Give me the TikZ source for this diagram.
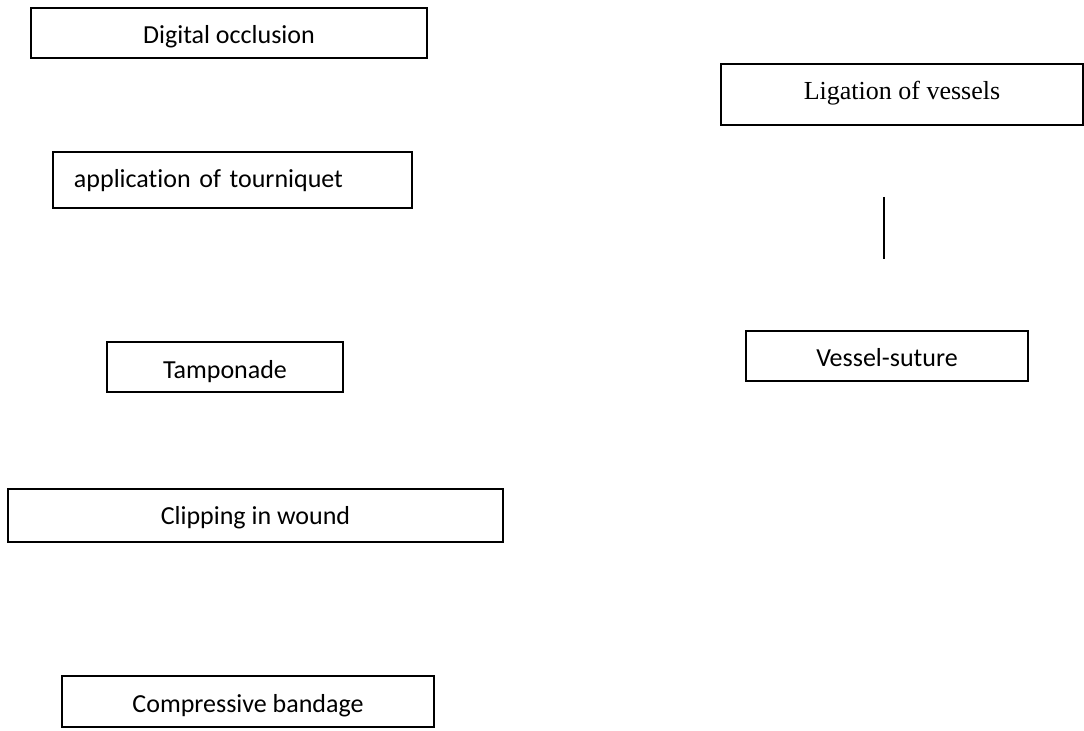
\documentclass[tikz,border=0pt]{standalone}
\usepackage{fontspec}
\setmainfont{Carlito}[Ligatures=NoCommon]
\newfontfamily\timesfont{Liberation Serif}
\usetikzlibrary{positioning}
\tikzset{
  % riquadro semplice
  box/.style={draw=black, line width=1pt, inner sep=0pt, align=center,
    fill=white, text height=11pt, text depth=0pt, font=\fontsize{13}{15}\selectfont},
  % riquadro con testo a sinistra
  boxleft/.style={box, align=left, inner xsep=10.5pt, text width=158.5pt},
  % tratto isolato
  stub/.style={line width=1pt, black},
}

\begin{document}
\begin{tikzpicture}[x=0.5pt, y=-0.5pt]
  \useasboundingbox (0,0) rectangle (1084,731);
  % colonna sinistra
  \node[box, minimum width=198pt, minimum height=25pt] (digital) at (229,33) {Digital occlusion};
  \node[boxleft, text height=8pt, minimum height=28pt] (tourniquet) at (232.5,180) {application of tourniquet};
  \node[box, text height=12pt, minimum width=118pt, minimum height=25pt] (tamponade) at (225,367) {Tamponade};
  \node[box, text height=9.5pt, minimum width=247.5pt, minimum height=26.5pt] (clipping) at (255.5,515.5) {Clipping in wound};
  \node[box, minimum width=186pt, minimum height=25.5pt] (bandage) at (248,701.5) {Compressive bandage};
  % colonna destra
  \node[box, font=\timesfont\fontsize{13}{15}\selectfont, text height=5.5pt, minimum width=181pt,
    minimum height=30.5pt] (ligation) at (902,94.5) {Ligation of vessels};
  \node[box, minimum width=141pt, minimum height=25pt] (suture) at (887,356) {Vessel-suture};
  \coordinate (stubtop) at (884,197);
  \coordinate (stubbot) at (884,259);
  \draw[stub] (stubtop) -- (stubbot);
\end{tikzpicture}
\end{document}
